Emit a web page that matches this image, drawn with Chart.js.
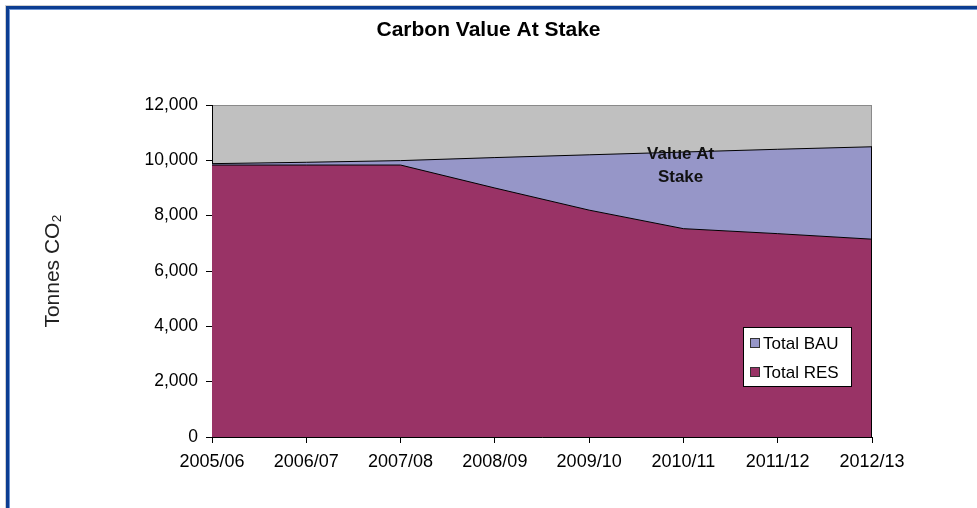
<!DOCTYPE html>
<html>
<head>
<meta charset="utf-8">
<title>Carbon Value At Stake</title>
<script src="https://cdn.jsdelivr.net/npm/chart.js"></script>
<style>
  html, body { margin: 0; padding: 0; background: #fff; overflow: hidden; }
  #frame {
    position: absolute; left: 6px; top: 6px; width: 2000px; height: 2000px;
    border-left: 3px solid #0c3d91; border-top: 3px solid #0c3d91;
    box-shadow: inset 1px 1px 0 #6c93d4, -1px -1px 0 #cfcfcf;
  }
  #myChart { position: absolute; left: 0; top: 0; }
</style>
</head>
<body>
<div id="frame"></div>
<canvas id="myChart" width="977" height="508"></canvas>
<script>
// chart values
const years = ["2005/06", "2006/07", "2007/08", "2008/09", "2009/10", "2010/11", "2011/12", "2012/13"];
const totalBAU = [9880, 9930, 9990, 10100, 10200, 10300, 10400, 10490];
const totalRES = [9830, 9830, 9830, 9000, 8200, 7530, 7350, 7150];
const yTicks = [0, 2000, 4000, 6000, 8000, 10000, 12000];
const chartTitle = "Carbon Value At Stake";
const noteLines = ["Value At", "Stake"];

const FONT = "Arial, 'Liberation Sans', sans-serif";

//gray plot area behind everything + title centered on the whole page
const plotBackground = {
  id: "plotBackground",
  beforeDraw(chart) {
    const { ctx, chartArea: a } = chart;
    ctx.save();
    ctx.fillStyle = "#c0c0c0";
    ctx.fillRect(a.left, a.top, a.width, a.height);
    ctx.strokeStyle = "#8a8a8a";
    ctx.lineWidth = 1;
    ctx.strokeRect(a.left + 0.5, a.top + 0.5, a.width - 1, a.height);

    ctx.fillStyle = "#000";
    ctx.font = "bold 21px " + FONT;
    ctx.textAlign = "center";
    ctx.textBaseline = "middle";
    ctx.fillText(chartTitle, chart.width / 2, 30);
    ctx.restore();
  },
};

//right edge of the BAU area + the annotation text
const areaExtras = {
  id: "areaExtras",
  afterDatasetsDraw(chart) {
    const { ctx, chartArea: a, scales } = chart;
    const meta = chart.getDatasetMeta(0);
    const last = meta.data[meta.data.length - 1];
    ctx.save();
    ctx.strokeStyle = "#000";
    ctx.lineWidth = 1;
    ctx.beginPath();
    ctx.moveTo(Math.round(last.x) - 0.5, last.y);
    ctx.lineTo(Math.round(last.x) - 0.5, a.bottom);
    ctx.stroke();

    ctx.fillStyle = "#111";
    ctx.font = "bold 17px " + FONT;
    ctx.textAlign = "center";
    ctx.textBaseline = "middle";
    const x = scales.x.getPixelForValue(4.97);
    ctx.fillText(noteLines[0], x, scales.y.getPixelForValue(10230));
    ctx.fillText(noteLines[1], x, scales.y.getPixelForValue(9380));
    ctx.restore();
  },
};

//legend box inside the plot, bottom right
const boxLegend = {
  id: "boxLegend",
  afterDraw(chart) {
    const { ctx, chartArea: a } = chart;
    const w = 108, h = 59;
    const left = a.right - 21 - w;
    const top = a.bottom - 51 - h;
    ctx.save();
    ctx.fillStyle = "#fff";
    ctx.fillRect(left, top, w, h);
    ctx.strokeStyle = "#000";
    ctx.lineWidth = 1;
    ctx.strokeRect(left + 0.5, top + 0.5, w, h);
    ctx.font = "17px " + FONT;
    ctx.textAlign = "left";
    ctx.textBaseline = "middle";
    chart.data.datasets.forEach((ds, i) => {
      const cy = top + 16 + i * 29;
      ctx.fillStyle = ds.backgroundColor;
      ctx.fillRect(left + 7, cy - 5, 10, 10);
      ctx.strokeStyle = "#333";
      ctx.strokeRect(left + 7.5, cy - 4.5, 9, 9);
      ctx.fillStyle = "#000";
      ctx.fillText(ds.label, left + 20, cy + 1);
    });
    ctx.restore();
  },
};

const ctx = document.getElementById("myChart");

new Chart(ctx, {
  type: "line",
  data: {
    labels: years,
    datasets: [
      {
        label: "Total BAU",
        data: totalBAU,
        backgroundColor: "#9696c8",
        borderColor: "#000",
        borderWidth: 1,
        pointRadius: 0,
        tension: 0,
        fill: "origin",
        order: 2,
      },
      {
        label: "Total RES",
        data: totalRES,
        backgroundColor: "#993366",
        borderColor: "#000",
        borderWidth: 1,
        pointRadius: 0,
        tension: 0,
        fill: "origin",
        order: 1,
      },
    ],
  },
  options: {
    responsive: false,
    animation: false,
    devicePixelRatio: 1,
    layout: { padding: { left: 37, right: 105, top: 105, bottom: 0 } },
    plugins: {
      legend: { display: false },
      tooltip: { enabled: false },
      title: { display: false },
    },
    scales: {
      x: {
        z: 1,
        offset: false,
        grid: { drawOnChartArea: false, tickLength: 6, color: "#000" },
        border: { display: true, color: "#000", width: 1 },
        ticks: {
          color: "#000",
          padding: 8,
          maxRotation: 0,
          autoSkip: false,
          font: { family: FONT, size: 18 },
        },
        afterFit(scale) { scale.height = 71; },
      },
      y: {
        z: 1,
        min: 0,
        max: 12000,
        afterBuildTicks(scale) { scale.ticks = yTicks.map((v) => ({ value: v })); },
        grid: { drawOnChartArea: false, tickLength: 6, color: "#000" },
        border: { display: true, color: "#000", width: 1 },
        ticks: {
          color: "#000",
          padding: 8,
          font: { family: FONT, size: 17.5 },
          callback: (v) => v.toLocaleString("en-US"),
        },
        title: {
          display: true,
          text: "Tonnes CO\u2082",
          color: "#222",
          font: { family: FONT, size: 21 },
          padding: { top: 4, bottom: 4 },
        },
        afterFit(scale) { scale.width = 175; },
      },
    },
  },
  plugins: [plotBackground, areaExtras, boxLegend],
});
</script>
</body>
</html>
